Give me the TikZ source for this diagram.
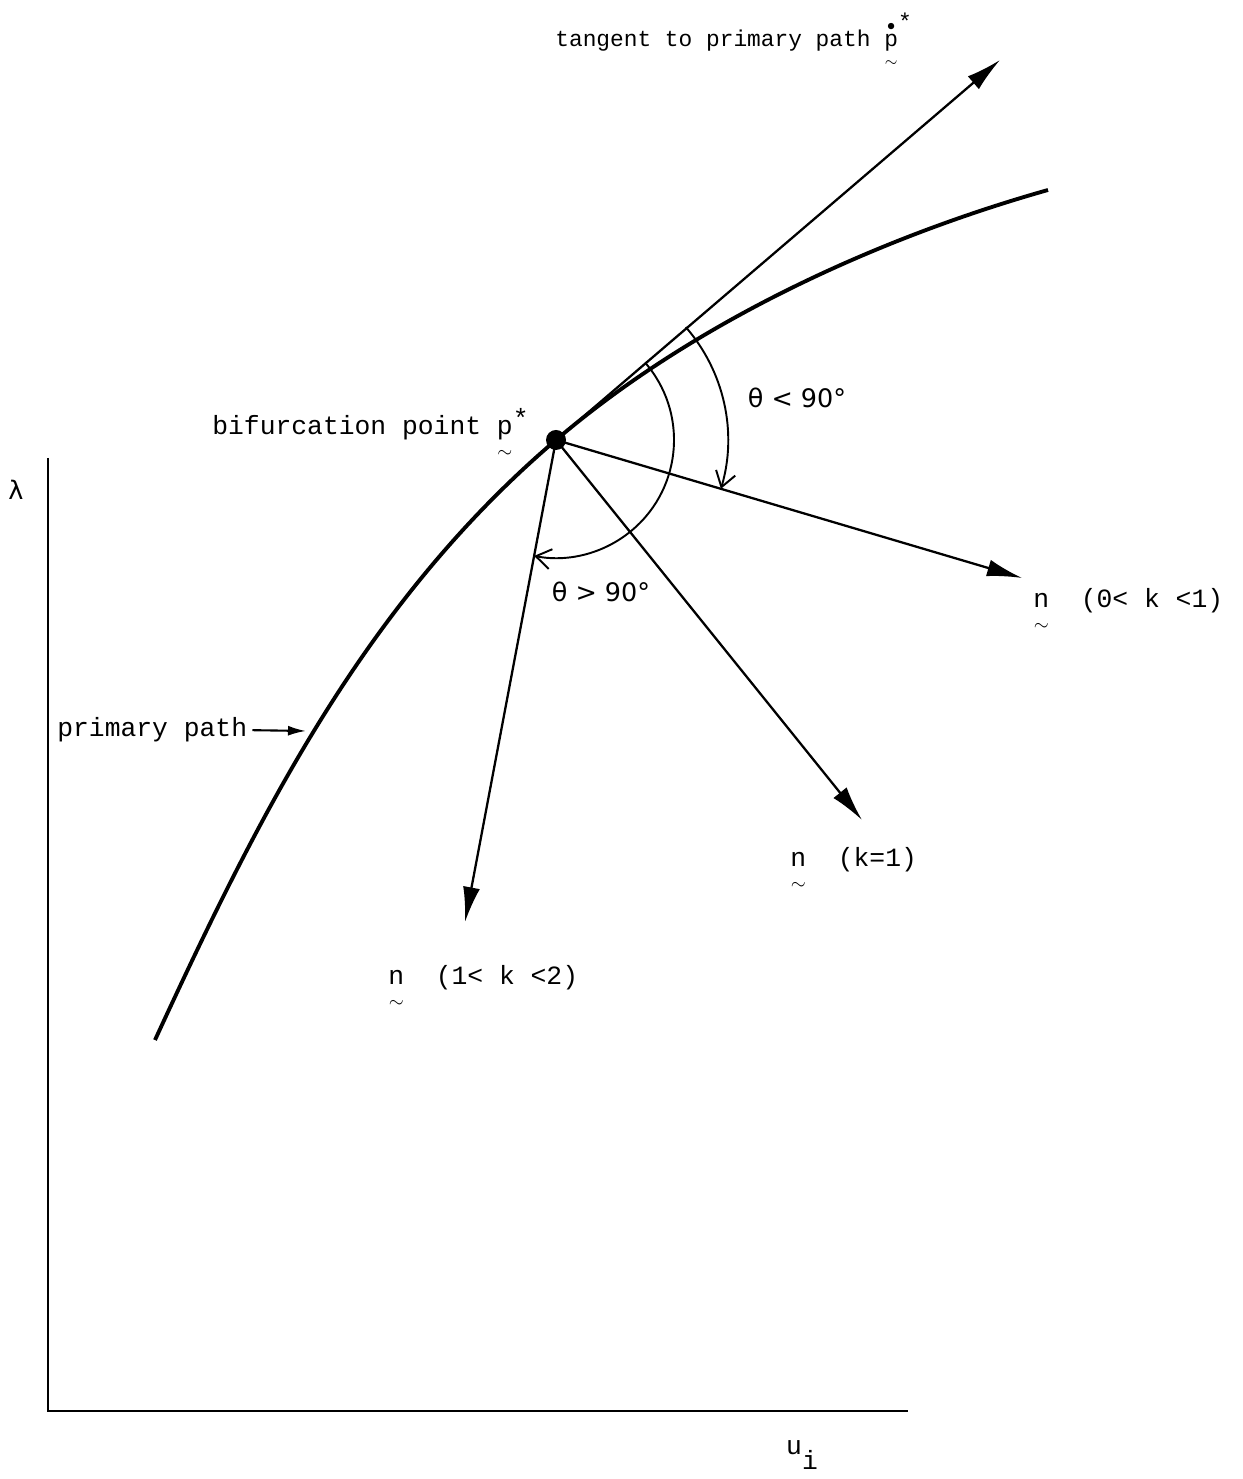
\documentclass[tikz,border=0pt]{standalone}
\usepackage{amsmath}
\usepackage{fontspec}
\setmonofont{Liberation Mono}
\newfontfamily\symfont{DejaVu Sans}
\usetikzlibrary{arrows.meta}

\newcommand{\tvec}[1]{\ensuremath{\underset{\rule{0pt}{0.9ex}\sim}{\text{\ttfamily #1}}}}
\newcommand{\nvec}{\ensuremath{\underset{\rule{0pt}{1.3ex}\sim}{\text{\ttfamily n}}}}
\newcommand{\tvecstar}[1]{\tvec{#1}\raisebox{0.3em}{*}}
\newcommand{\tvecdot}[1]{\ensuremath{\underset{\rule{0pt}{0.9ex}\sim}{\overset{\bullet}{\text{\ttfamily #1}}}}\raisebox{0.75em}{*}}

\begin{document}
\begin{tikzpicture}[
    x=0.02cm, y=0.02cm,
    every node/.style={
        inner sep=0pt,
        font=\ttfamily\fontsize{15}{18}\selectfont
    },
    axis/.style={line width=1.7pt},
    branch/.style={line width=2.2pt},
    vecarrow/.style={
        line width=1.3pt,
        -{Latex[length=0.7cm,width=0.34cm]}
    },
    anglearc/.style={
        line width=1.1pt,
        -{Straight Barb[length=0.3cm,width=0.4cm]}
    },
    small/.style={font=\ttfamily\fontsize{13}{16}\selectfont},
    anglelbl/.style={font=\symfont\fontsize{14.5}{17}\selectfont}
]

\useasboundingbox (0,0) rectangle (1242,1479);

% axes
\coordinate (origin) at (48,68);
\coordinate (ytop) at (48,1021);
\coordinate (xend) at (908,68);
\draw[axis] (ytop) -- (origin) -- (xend);

\node[anglelbl] (lam) at (16,989) {λ};
\node (ui) at (802,24) {u\raisebox{-0.55em}{i}};

% primary path through the bifurcation point
\coordinate (pstart) at (155,439);
\coordinate (bif) at (556,1039);
\coordinate (pend) at (1048,1289);
\draw[branch] (pstart) .. controls (260,667) and (366,877) .. (bif)
    .. controls (693,1156) and (875,1240) .. (pend);
\fill (bif) circle[radius=10];

% tangent and the three directions n
\coordinate (ttip) at (1000,1419);
\coordinate (n1tip) at (1022,901);
\coordinate (n2tip) at (862,659);
\coordinate (n3tip) at (465,557);

\draw[vecarrow] (bif) -- (ttip);
\draw[vecarrow] (bif) -- (n1tip);
\draw[vecarrow] (bif) -- (n2tip);
\draw[vecarrow] (bif) -- (n3tip);

% angles
\draw[anglearc] (bif) ++(41:172) arc[start angle=41, end angle=-16.5, radius=172];
\draw[anglearc] (bif) ++(41:118) arc[start angle=41, end angle=-100.7, radius=118];

\node[anglelbl] (lt) at (797,1081) {θ < 90°};
\node[anglelbl] (gt) at (601,887) {θ > 90°};

% labels
\node[small, anchor=base west] (tanlbl) at (555,1432)
    {tangent to primary path \tvecdot{p}};
\node[anchor=base west] (biflbl) at (212,1044)
    {bifurcation point \tvecstar{p}};
\node[anchor=base west] (primlbl) at (57,742) {primary path};
\coordinate (onpath) at (306,748);
\draw[line width=1.2pt, -{Latex[length=0.36cm,width=0.2cm]}]
    (primlbl.east) ++(5,0) -- (onpath);

\node[anchor=base west] (n1lbl) at (1033,871) {\nvec\ \ (0< k <1)};
\node[anchor=base west] (n2lbl) at (790,612) {\nvec\ \ (k=1)};
\node[anchor=base west] (n3lbl) at (388,494) {\nvec\ \ (1< k <2)};

\end{tikzpicture}
\end{document}
